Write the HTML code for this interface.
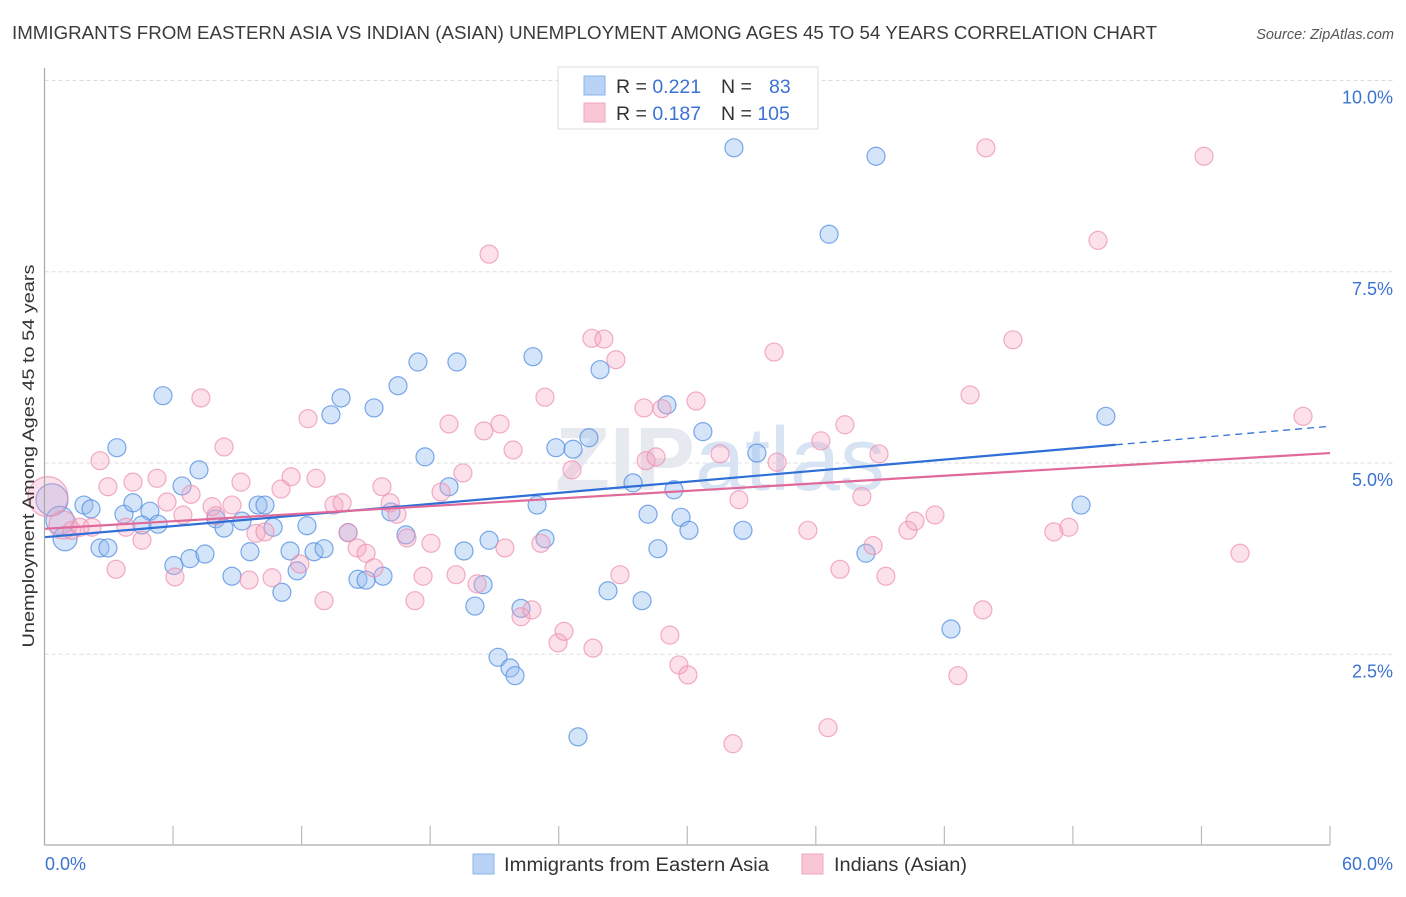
<!DOCTYPE html>
<html><head><meta charset="utf-8"><style>
body{margin:0;background:#fff;font-family:"Liberation Sans",sans-serif;}
svg text{font-family:"Liberation Sans",sans-serif;}
</style></head><body>
<svg id="chart" width="1406" height="892" viewBox="0 0 1406 892">
<text x="12" y="39" font-size="18" fill="#3a3a3a" textLength="1145" lengthAdjust="spacingAndGlyphs">IMMIGRANTS FROM EASTERN ASIA VS INDIAN (ASIAN) UNEMPLOYMENT AMONG AGES 45 TO 54 YEARS CORRELATION CHART</text>
<text x="1394" y="39" font-size="14.5" fill="#555" font-style="italic" text-anchor="end">Source: ZipAtlas.com</text>
<g id="grid"></g>
<text x="720" y="490" font-size="90" fill="#e6e9ef" text-anchor="middle" font-weight="bold">ZIP<tspan font-weight="normal" fill="#d8e4f4">atlas</tspan></text>
<g id="pts"></g>
<g id="lines"></g>
<line x1="44.5" y1="68" x2="44.5" y2="845" stroke="#aaa" stroke-width="1.2"/>
<line x1="44.5" y1="845" x2="1330" y2="845" stroke="#aaa" stroke-width="1.2"/>
<g id="ticks"></g>
<text x="34" y="456" font-size="17" fill="#333" text-anchor="middle" textLength="383" lengthAdjust="spacingAndGlyphs" transform="rotate(-90 34 456)">Unemployment Among Ages 45 to 54 years</text>
<text x="45" y="870" font-size="18" fill="#3b73d1">0.0%</text>
<text x="1393" y="870" font-size="18" fill="#3b73d1" text-anchor="end">60.0%</text>
<g>
<rect x="558" y="67" width="260" height="62" fill="#fff" stroke="#ddd"/>
<rect x="584" y="76" width="21" height="19" fill="#b8d3f5" stroke="#8ab3e8"/>
<rect x="584" y="103" width="21" height="19" fill="#f9c6d6" stroke="#f0a5bd"/>
<text x="616" y="93" font-size="19.5" fill="#333">R = <tspan fill="#3b73d1">0.221</tspan></text>
<text x="721" y="93" font-size="19.5" fill="#333">N = <tspan fill="#3b73d1" x="769">83</tspan></text>
<text x="616" y="120" font-size="19.5" fill="#333">R = <tspan fill="#3b73d1">0.187</tspan></text>
<text x="721" y="120" font-size="19.5" fill="#333">N = <tspan fill="#3b73d1">105</tspan></text>
</g>
<g>
<rect x="473" y="854" width="21" height="20" fill="#b8d3f5" stroke="#8ab3e8"/>
<text x="504" y="871" font-size="19" fill="#333" textLength="265" lengthAdjust="spacingAndGlyphs">Immigrants from Eastern Asia</text>
<rect x="802" y="854" width="21" height="20" fill="#f9c6d6" stroke="#f0a5bd"/>
<text x="834" y="871" font-size="19" fill="#333" textLength="133" lengthAdjust="spacingAndGlyphs">Indians (Asian)</text>
</g>
</svg>
<script>
const yTicks=[2.5,5.0,7.5,10.0];
const xTicks=[0,6,12,18,24,30,36,42,48,54,60];
const blueX=[0.35,0.72,0.96,1.84,2.17,2.59,2.96,3.38,3.71,4.13,4.92,4.55,5.30,5.53,6.04,6.42,6.79,7.21,7.49,8.00,8.38,8.75,9.22,9.59,9.97,10.29,10.67,11.08,11.46,11.79,12.25,12.58,13.05,13.37,13.84,14.17,14.63,15.01,15.38,15.80,16.17,16.50,16.87,17.43,17.76,18.88,19.25,19.58,20.09,20.47,20.75,21.17,21.73,21.96,22.24,22.80,22.99,23.36,23.87,24.67,24.90,25.41,25.93,26.30,27.47,27.89,28.17,28.63,29.05,29.38,29.71,30.08,30.73,32.18,32.60,33.25,36.62,38.34,38.81,42.31,48.38,49.54];
const blueY=[4.52,4.25,4.01,4.45,4.40,3.89,3.89,5.20,4.33,4.48,4.37,4.19,4.20,5.88,3.66,4.70,3.75,4.91,3.81,4.27,4.15,3.52,4.24,3.84,4.45,4.45,4.16,3.31,3.85,3.59,4.18,3.84,3.88,5.63,5.85,4.09,3.48,3.47,5.72,3.52,4.36,6.01,4.06,6.32,5.08,4.69,6.32,3.85,3.13,3.41,3.99,2.46,2.32,2.22,3.10,6.39,4.45,4.01,5.20,5.18,1.42,5.33,6.22,3.33,4.74,3.20,4.33,3.88,5.76,4.65,4.29,4.12,5.41,9.12,4.12,5.13,7.99,3.82,9.01,2.83,4.45,5.61];
const blueR=[16,14,12];
const pinkX=[0.16,0.86,1.28,1.66,2.22,2.59,2.96,3.34,3.80,4.13,4.55,5.25,5.72,6.09,6.46,6.84,7.30,7.82,8.00,8.38,8.75,9.17,9.55,9.87,10.29,10.62,11.04,11.51,11.92,12.30,12.67,13.05,13.51,13.89,14.17,14.59,15.01,15.38,15.75,16.13,16.45,16.92,17.29,17.67,18.04,18.51,18.88,19.21,19.53,20.19,20.51,20.75,21.26,21.49,21.87,22.24,22.75,23.17,23.36,23.97,24.25,24.62,25.55,25.60,26.11,26.67,26.86,27.98,28.08,28.54,28.82,29.19,29.61,30.03,30.41,31.53,32.13,32.41,34.05,34.19,35.63,36.24,36.57,37.13,37.36,38.15,38.67,38.95,39.27,40.30,40.63,41.56,42.63,43.20,43.80,43.94,45.20,47.11,47.81,49.17,54.12,55.80,58.74];
const pinkY=[4.56,4.19,4.12,4.16,4.16,5.03,4.69,3.61,4.16,4.75,3.99,4.80,4.49,3.51,4.32,4.59,5.85,4.43,4.31,5.21,4.45,4.75,3.47,4.08,4.10,3.50,4.66,4.82,3.68,5.58,4.80,3.20,4.45,4.48,4.09,3.89,3.82,3.63,4.69,4.48,4.33,4.02,3.20,3.52,3.95,4.62,5.51,3.54,4.87,3.42,5.42,7.73,5.51,3.89,5.17,2.99,3.08,3.95,5.86,2.65,2.80,4.91,6.63,2.58,6.62,6.35,3.54,5.72,5.03,5.08,5.71,2.75,2.36,2.23,5.81,5.12,1.33,4.52,6.45,5.01,4.12,5.29,1.54,3.61,5.50,4.56,3.92,5.12,3.52,4.12,4.24,4.32,2.22,5.89,3.08,9.12,6.61,4.10,4.16,7.91,9.01,3.82,5.61];
const pinkR=[20,14];
const blueTrend=[4.03,5.48];
const pinkTrend=[4.14,5.13];
const blueSolidEnd=50;

const X=v=>44.5+v/60*1285.5;
const Y=v=>845.5-v*76.5;
const NS='http://www.w3.org/2000/svg';
const mk=(t,a,p)=>{const e=document.createElementNS(NS,t);for(const k in a)e.setAttribute(k,a[k]);p.appendChild(e);return e;};
const grid=document.getElementById('grid'),ticks=document.getElementById('ticks'),pts=document.getElementById('pts'),lines=document.getElementById('lines');
yTicks.forEach(v=>{
 const l=mk('line',{x1:44.5,x2:1393,y1:Y(v),y2:Y(v),stroke:'#ddd','stroke-dasharray':'4,3'},grid);
 
 
 const t=mk('text',{x:1393,y:Y(v)+23,'font-size':18,fill:'#3b73d1','text-anchor':'end'},ticks);
 t.textContent=v.toFixed(1)+'%';
 
 
});
xTicks.slice(1).forEach(v=>{
 const l=mk('line',{x1:X(v),x2:X(v),y1:826,y2:845,stroke:'#bbb','stroke-width':1.2},ticks);
 
 
});
blueX.forEach((x,i)=>{
 const c=mk('circle',{cx:X(x),cy:Y(blueY[i]),r:blueR[i]||9,fill:'rgba(150,190,240,0.4)',stroke:'rgba(80,140,225,0.75)','stroke-width':1.2},pts);
 
 
});
pinkX.forEach((x,i)=>{
 const c=mk('circle',{cx:X(x),cy:Y(pinkY[i]),r:pinkR[i]||9,fill:'rgba(245,165,195,0.35)',stroke:'rgba(235,140,175,0.7)','stroke-width':1.2},pts);
 
 
});
const bAt=v=>blueTrend[0]+(blueTrend[1]-blueTrend[0])*v/60;
const pAt=v=>pinkTrend[0]+(pinkTrend[1]-pinkTrend[0])*v/60;
let l1=mk('line',{x1:X(0),y1:Y(bAt(0)),x2:X(blueSolidEnd),y2:Y(bAt(blueSolidEnd)),stroke:'#2f6fd6','stroke-width':2.2},lines);


let l2=mk('line',{x1:X(blueSolidEnd),y1:Y(bAt(blueSolidEnd)),x2:X(60),y2:Y(bAt(60)),stroke:'#2f6fd6','stroke-width':1.3,'stroke-dasharray':'7,5'},lines);


let l3=mk('line',{x1:X(0),y1:Y(pAt(0)),x2:X(60),y2:Y(pAt(60)),stroke:'#e0699a','stroke-width':2.2},lines);


</script>
</body></html>
